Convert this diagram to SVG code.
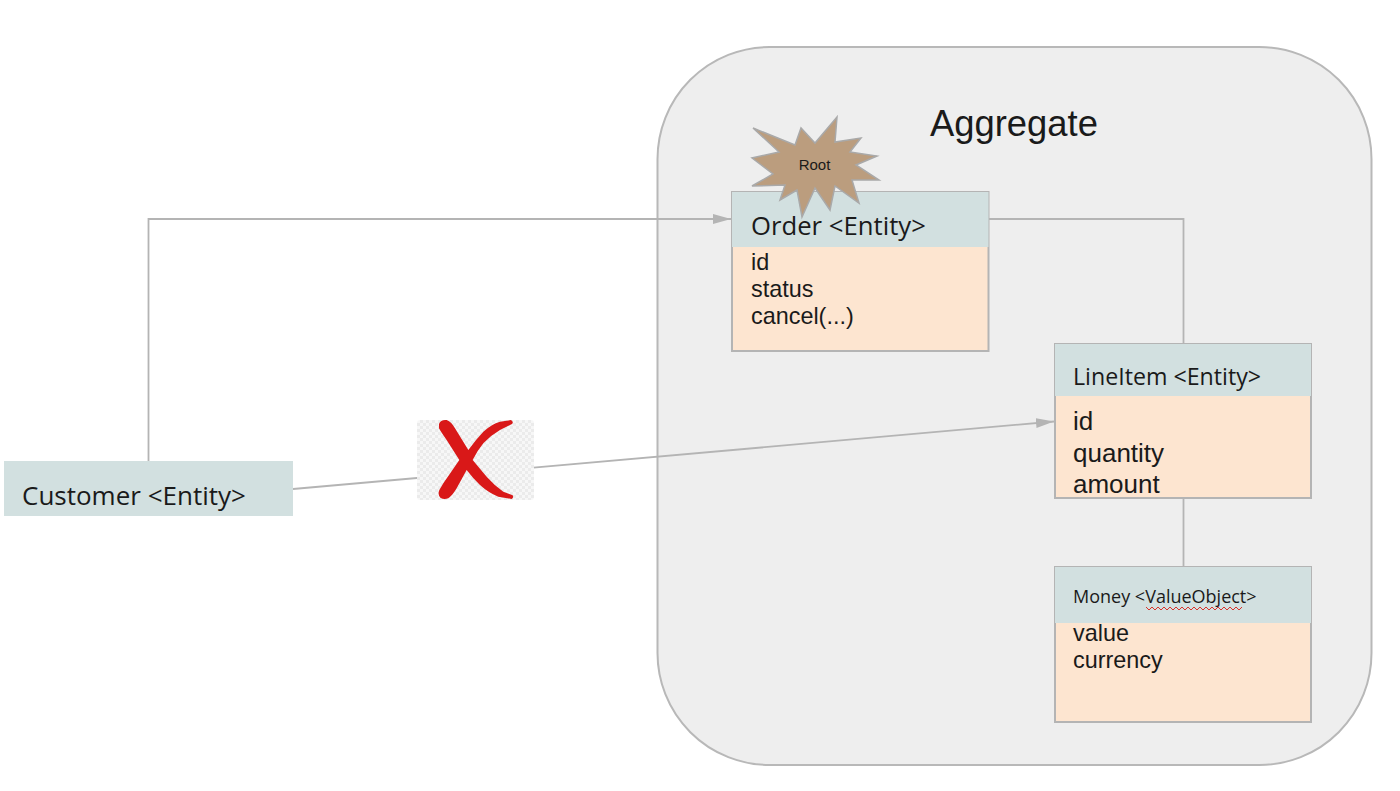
<svg xmlns="http://www.w3.org/2000/svg" width="1400" height="791" viewBox="0 0 1400 791">
<defs>
<marker id="arr" markerUnits="userSpaceOnUse" markerWidth="20" markerHeight="14" refX="18" refY="6" orient="auto"><path d="M0 1L18 6L0 11Z" fill="#b4b4b4"/></marker>
<pattern id="chk" width="6" height="6" patternUnits="userSpaceOnUse"><rect width="6" height="6" fill="#f7f7f7"/><rect width="3" height="3" fill="#ebebeb"/><rect x="3" y="3" width="3" height="3" fill="#ebebeb"/></pattern>
</defs>
<style>
text{font-family:"Liberation Sans",Arial,sans-serif;fill:#1a1a1a}
.h{fill:#d2e0e0}
.b{fill:#fde5d0;stroke:#b4b4b4;stroke-width:2}
.c{fill:none;stroke:#b4b4b4;stroke-width:1.800}
.l{font-family:"Open Sans","Noto Sans",sans-serif}
.f{font-size:23.400px}
</style>
<rect width="1400" height="791" fill="#fff"/>
<g id="aggregate">
<rect x="657.500" y="47" width="714" height="718" rx="112" fill="#eee" stroke="#b8b8b8" stroke-width="2"/>
<text x="930" y="136" font-size="36.400">Aggregate</text>
</g>
<g id="connectors">
<path class="c" d="M148.500 462V219H731" marker-end="url(#arr)"/>
<path class="c" d="M988 219H1183.500V344"/>
<path class="c" d="M1183.500 497V568"/>
<path class="c" d="M293 489L1054 421.500" marker-end="url(#arr)"/>
</g>
<g id="customer">
<rect x="4" y="461" width="289" height="55" class="h"/>
<text x="22" y="505" font-size="26" class="l">Customer &lt;Entity&gt;</text>
</g>
<g id="cross">
<rect x="417" y="420" width="117" height="80" rx="3" fill="url(#chk)"/>
<path transform="translate(400 400) scale(0.3333)" d="M117 72Q122 58 140 60Q155 66 165 85L205 150Q228 118 250 95Q275 72 300 65L333 60Q342 66 336 72L300 90Q272 106 250 130Q232 152 218 180L260 230Q285 258 310 275L338 286Q342 292 335 297L295 290Q265 278 240 255Q218 234 200 210L170 265Q158 286 145 295Q132 300 122 294Q112 284 118 270L130 250L178 180L140 120Q124 98 117 85Z" fill="#d91818"/>
</g>
<g id="order">
<rect x="732" y="192" width="256.500" height="159" class="b"/>
<rect x="732" y="192" width="256.500" height="55" class="h"/>
<text x="751" y="235" font-size="25.700" class="l">Order &lt;Entity&gt;</text>
<text x="751" y="270" class="f">id</text>
<text x="751" y="297" class="f">status</text>
<text x="751" y="324" class="f">cancel(...)</text>
</g>
<g id="root">
<polygon points="837,117 835,142 861,138 850,152 877,156 856,165 879,180 852,180 859,203 835,186 830,210 815,188 802,217 797,190 780,200 785,185 752,186 773,174 752,158 779,152 753,128 795,145 801,128 815,143" fill="#bb9d7e" stroke="#a9a9a9" stroke-width="1.500"/>
<text x="814.500" y="170" font-size="15" text-anchor="middle">Root</text>
</g>
<g id="lineitem">
<rect x="1055" y="344" width="256" height="154" class="b"/>
<rect x="1055" y="344" width="256" height="52" class="h"/>
<text x="1073" y="385" font-size="23.200" class="l">LineItem &lt;Entity&gt;</text>
<text x="1073" y="430" font-size="26">id</text>
<text x="1073" y="462" font-size="26">quantity</text>
<text x="1073" y="493" font-size="26">amount</text>
</g>
<g id="money">
<rect x="1055" y="567" width="256" height="155" class="b"/>
<rect x="1055" y="567" width="256" height="56" class="h"/>
<text x="1073" y="603" font-size="18" class="l">Money &lt;ValueObject&gt;</text>
<path d="M1146 607l3 3 3-3 3 3 3-3 3 3 3-3 3 3 3-3 3 3 3-3 3 3 3-3 3 3 3-3 3 3 3-3 3 3 3-3 3 3 3-3 3 3 3-3 3 3 3-3 3 3 3-3 3 3 3-3 3 3 3-3 3 3 3-3" fill="none" stroke="#d8322a" stroke-width="1"/>
<text x="1073" y="641" class="f">value</text>
<text x="1073" y="668" class="f">currency</text>
</g>
</svg>
